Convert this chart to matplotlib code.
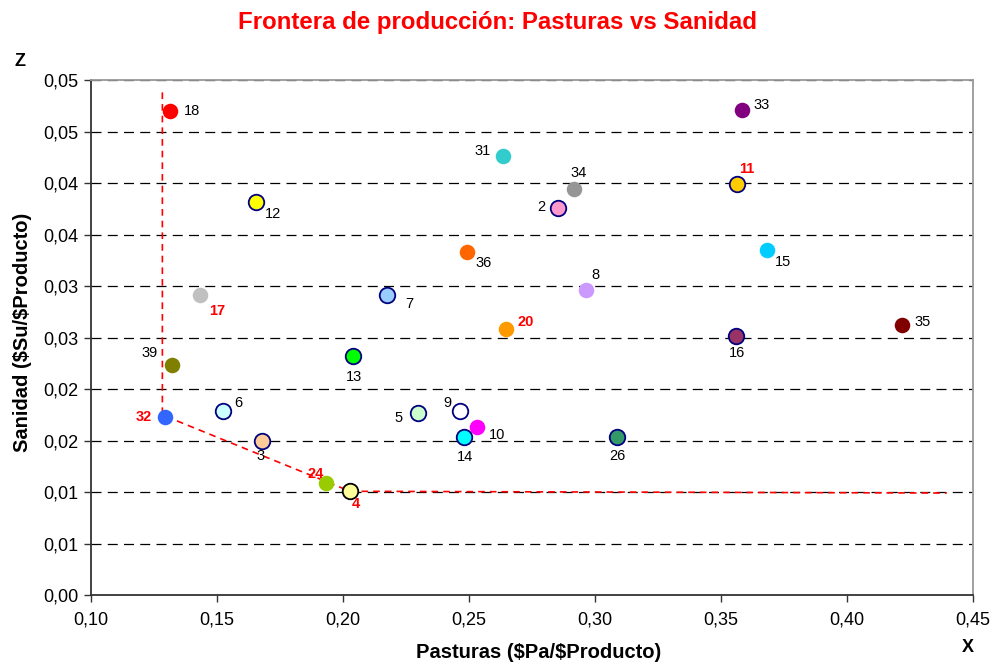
import matplotlib
matplotlib.use("Agg")
import matplotlib.pyplot as plt
from matplotlib.ticker import FixedLocator, FixedFormatter

plt.rcParams['font.family'] = ['Liberation Sans', 'DejaVu Sans']
plt.rcParams['text.parse_math'] = False

# --- DATOS ---
ids = ['18', '33', '31', '34', '2', '11', '15', '8', '20', '16', '35', '12', '36', '17',
       '7', '39', '13', '6', '32', '3', '5', '9', '10', '14', '24', '4', '26']
pasturas = [0.1315, 0.3582, 0.2635, 0.2917, 0.2851, 0.3562, 0.3683, 0.2964, 0.2647, 0.3561,
            0.4218, 0.1654, 0.2493, 0.1433, 0.2175, 0.1321, 0.2038, 0.1524, 0.1295, 0.1679,
            0.2299, 0.2464, 0.2533, 0.2478, 0.1933, 0.2028, 0.3085]
sanidad = [0.0470, 0.0471, 0.04265, 0.03945, 0.0376, 0.03987, 0.03353, 0.02965, 0.0258, 0.02518,
           0.02621, 0.03813, 0.03333, 0.02913, 0.0291, 0.0223, 0.02324, 0.01783, 0.01728, 0.01495,
           0.01767, 0.01783, 0.01634, 0.01534, 0.01087, 0.01007, 0.01534]
colores = ['#FF0000', '#800080', '#33CCCC', '#969696', '#FF99CC', '#FFCC00', '#00CCFF', '#CC99FF',
           '#FF9900', '#993366', '#800000', '#FFFF00', '#FF6600', '#C0C0C0', '#99CCFF', '#808000',
           '#00FF00', '#CCFFFF', '#3366FF', '#FFCC99', '#CCFFCC', '#FFFFFF', '#FF00FF', '#00FFFF',
           '#99CC00', '#FFFF99', '#339966']
bordes = ['none', 'none', 'none', 'none', '#000080', '#000080', 'none', 'none',
          'none', '#000080', 'none', '#000080', 'none', 'none', '#000080', 'none',
          '#000080', '#000080', 'none', '#000080', '#000080', '#000080', 'none', '#000080',
          'none', '#000000', '#000080']
# puntos de la frontera (en rojo y negrita)
frontera_ids = ['17', '11', '20', '32', '24', '4']

# desplazamiento de las etiquetas (pixeles) respecto al punto
offsets = {
    '18': (13, 0, 'left', 'center'), '33': (12, 5, 'left', 'center'),
    '31': (-12, 5, 'right', 'center'), '34': (4, 16, 'center', 'center'),
    '2': (-12, 1, 'right', 'center'), '11': (10, 15, 'center', 'center'),
    '15': (16, -12, 'center', 'center'), '8': (9, 15, 'center', 'center'),
    '20': (20, 7, 'center', 'center'), '16': (1, -17, 'center', 'center'),
    '35': (21, 3, 'center', 'center'), '12': (17, -12, 'center', 'center'),
    '36': (16, -11, 'center', 'center'), '17': (17, -16, 'center', 'center'),
    '7': (22, -9, 'center', 'center'), '39': (-22, 12, 'center', 'center'),
    '13': (1, -21, 'center', 'center'), '6': (15, 8, 'center', 'center'),
    '32': (-22, 0, 'center', 'center'), '3': (-2, -15, 'center', 'center'),
    '5': (-20, -5, 'center', 'center'), '9': (-13, 8, 'center', 'center'),
    '10': (20, -8, 'center', 'center'), '14': (1, -20, 'center', 'center'),
    '24': (-10, 9, 'center', 'center'), '4': (6, -13, 'center', 'center'),
    '26': (1, -19, 'center', 'center'),
}

# linea de frontera
frontera_x = [0.1283, 0.1283, 0.2028, 0.4395]
frontera_y = [0.0488, 0.01748, 0.01007, 0.0099]

y_ticks = [0.0, 0.005, 0.01, 0.015, 0.02, 0.025, 0.03, 0.035, 0.04, 0.045, 0.05]
y_labels = ['0,00', '0,01', '0,01', '0,02', '0,02', '0,03', '0,03', '0,04', '0,04', '0,05', '0,05']
x_ticks = [0.10, 0.15, 0.20, 0.25, 0.30, 0.35, 0.40, 0.45]
x_labels = ['0,10', '0,15', '0,20', '0,25', '0,30', '0,35', '0,40', '0,45']

fig = plt.figure(figsize=(9.95, 6.69), dpi=100)
ax = fig.add_axes([0.0915, 0.1106, 0.8865, 0.7698])

ax.set_xlim(0.10, 0.45)
ax.set_ylim(0.0, 0.05)

for yt in y_ticks[1:]:
    ax.axhline(yt, color='black', lw=0.9, linestyle=(0, (8, 5)), zorder=1)

ax.plot(frontera_x, frontera_y, color='#FF0000', lw=1.2, linestyle=(0, (4, 3)), zorder=2)

for i, name in enumerate(ids):
    ec = bordes[i]
    ax.scatter(pasturas[i], sanidad[i], s=125, c=colores[i],
               edgecolors=ec if ec != 'none' else colores[i],
               linewidths=1.3 if ec != 'none' else 0, zorder=3)
    dx, dy, ha, va = offsets[name]
    es_frontera = name in frontera_ids
    ax.annotate(name, (pasturas[i], sanidad[i]), xytext=(dx * 0.72, dy * 0.72),
                textcoords='offset points', ha=ha, va=va, fontsize=10.5,
                color='#FF0000' if es_frontera else 'black',
                fontweight='bold' if es_frontera else 'normal', zorder=4)

ax.yaxis.set_major_locator(FixedLocator(y_ticks))
ax.yaxis.set_major_formatter(FixedFormatter(y_labels))
ax.xaxis.set_major_locator(FixedLocator(x_ticks))
ax.xaxis.set_major_formatter(FixedFormatter(x_labels))
ax.tick_params(axis='both', direction='out', length=5, width=1, labelsize=13, color='#333333')
ax.tick_params(axis='y', pad=4)
ax.tick_params(axis='x', pad=7)

for s in ['left', 'bottom']:
    ax.spines[s].set_color('#333333')
    ax.spines[s].set_linewidth(1.3)
for s in ['top', 'right']:
    ax.spines[s].set_color('#999999')
    ax.spines[s].set_linewidth(1.3)

ax.set_xlabel('Pasturas ($Pa/$Producto)', fontsize=14.5, fontweight='bold', va='center')
ax.set_ylabel('Sanidad ($Su/$Producto)', fontsize=14.5, fontweight='bold', va='center')
ax.xaxis.set_label_coords(0.507, -0.1126)
ax.yaxis.set_label_coords(-0.078, 0.51)
fig.text(0.5, 0.967, 'Frontera de producción: Pasturas vs Sanidad', ha='center', va='center',
         fontsize=17.3, fontweight='bold', color='#FF0000')
fig.text(20 / 995, 1 - 62 / 669, 'Z', ha='center', va='center', fontsize=13, fontweight='bold')
fig.text(968 / 995, 1 - 647 / 669, 'X', ha='center', va='center', fontsize=13, fontweight='bold')

fig.savefig('out.png', dpi=100)
